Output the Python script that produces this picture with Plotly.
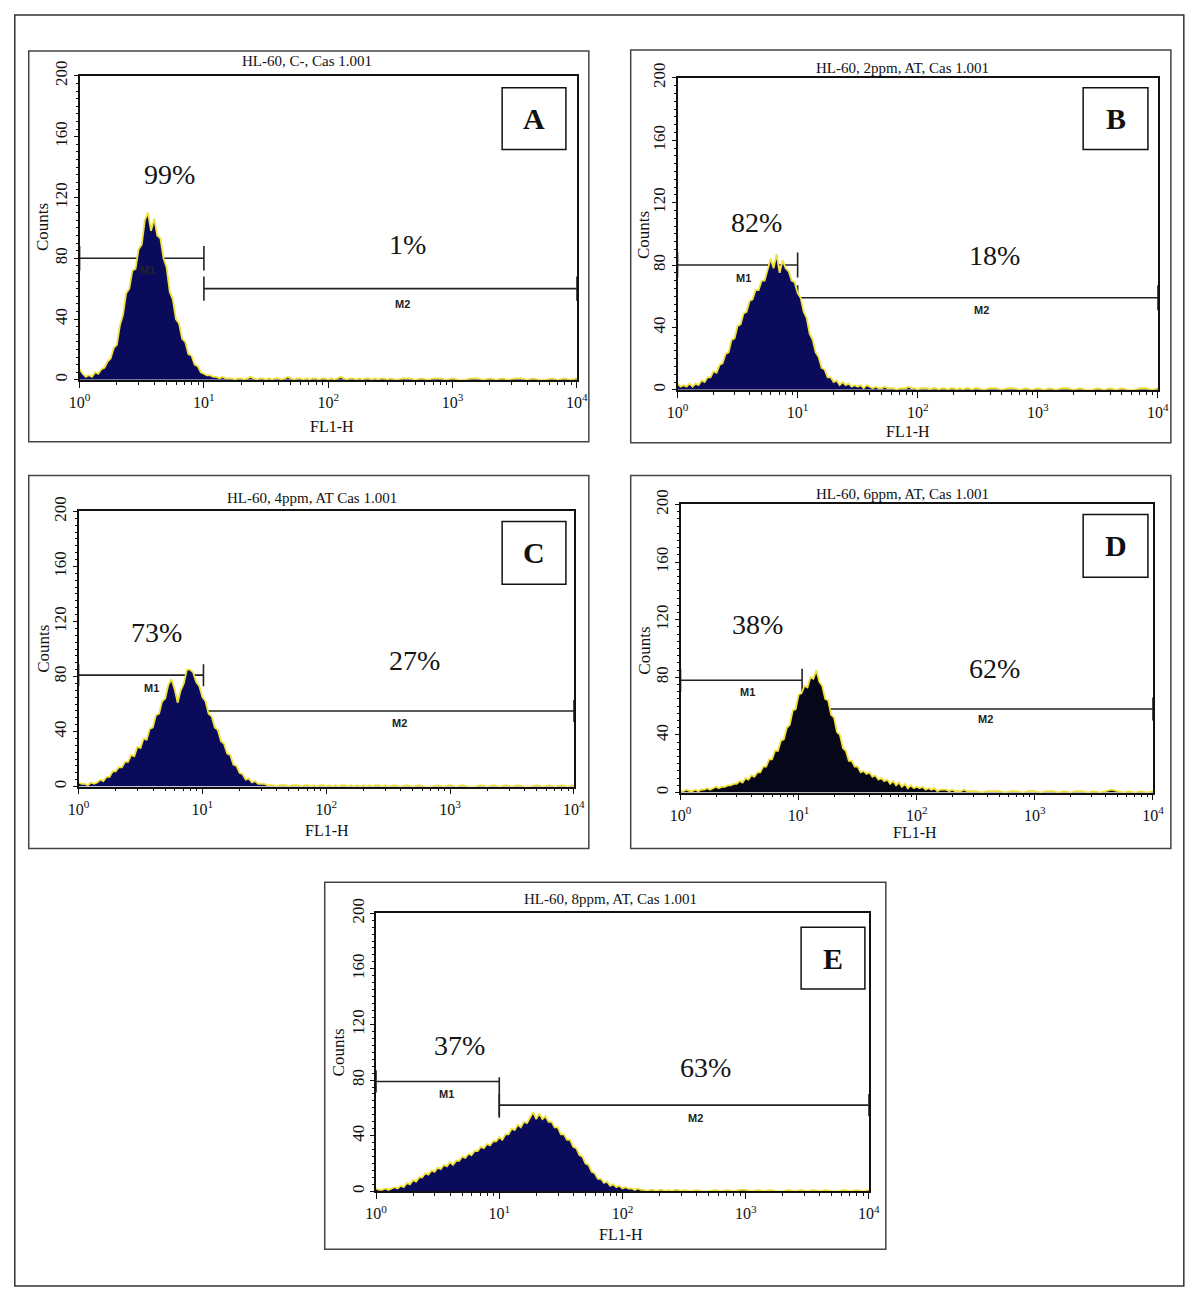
import plotly.graph_objects as go

# ---------------- data ----------------
PANEL_KEYS = ["A", "B", "C", "D", "E"]
PANEL_TITLES = [
    "HL-60, C-, Cas 1.001",
    "HL-60, 2ppm, AT, Cas 1.001",
    "HL-60, 4ppm, AT Cas 1.001",
    "HL-60, 6ppm, AT, Cas 1.001",
    "HL-60, 8ppm, AT, Cas 1.001",
]

# FL1-H channel positions: 40 per decade up to ~300, then 20 per decade
FL1_H = [1.000, 1.059, 1.122, 1.189, 1.259, 1.334, 1.413, 1.496, 1.585, 1.679,
         1.778, 1.884, 1.995, 2.113, 2.239, 2.371, 2.512, 2.661, 2.818, 2.985,
         3.162, 3.350, 3.548, 3.758, 3.981, 4.217, 4.467, 4.732, 5.012, 5.309,
         5.623, 5.957, 6.310, 6.683, 7.079, 7.499, 7.943, 8.414, 8.913, 9.441,
         10.00, 10.59, 11.22, 11.89, 12.59, 13.34, 14.13, 14.96, 15.85, 16.79,
         17.78, 18.84, 19.95, 21.13, 22.39, 23.71, 25.12, 26.61, 28.18, 29.85,
         31.62, 33.50, 35.48, 37.58, 39.81, 42.17, 44.67, 47.32, 50.12, 53.09,
         56.23, 59.57, 63.10, 66.83, 70.79, 74.99, 79.43, 84.14, 89.13, 94.41,
         100.0, 105.9, 112.2, 118.9, 125.9, 133.4, 141.3, 149.6, 158.5, 167.9,
         177.8, 188.4, 199.5, 211.3, 223.9, 237.1, 251.2, 266.1, 281.8, 298.5,
         316, 355, 398, 447, 501, 562, 631, 708, 794, 891,
         1000, 1122, 1259, 1413, 1585, 1778, 1995, 2239, 2512, 2818,
         3162, 3548, 3981, 4467, 5012, 5623, 6310, 7079, 7943, 8913, 10000]

COUNTS_A = [7, 4, 2, 3, 2, 5, 4, 7, 8, 12, 14, 21, 23, 36, 43, 57, 60, 72, 73, 86,
            89, 105, 110, 98, 106, 95, 93, 80, 74, 58, 53, 40, 37, 27, 25, 17, 16, 10, 9, 5,
            4, 3, 3, 2, 2, 1, 2, 1, 1,
            1, 0, 1, 1, 0, 1, 2, 1, 0, 1, 1, 0, 1, 0, 1, 1, 0, 1, 2, 1,
            0, 1, 1, 0, 1, 0, 1, 1, 0, 1, 1, 0, 1, 0, 1, 2, 1, 0, 1, 1,
            0, 1, 0, 1, 1, 0, 1, 0, 1, 1, 0,
            1, 0, 1, 1, 0, 1, 0, 1, 1, 0, 1, 0, 0, 1, 1, 0, 1, 0, 1, 0,
            1, 1, 0, 1, 0, 0, 1, 0, 1, 0, 1]
COUNTS_B = [4, 2, 3, 2, 4, 2, 4, 3, 6, 5, 8, 8, 12, 11, 16, 17, 23, 24, 32, 33,
            41, 42, 49, 50, 57, 58, 64, 64, 70, 70, 77, 84, 78, 87, 75, 83, 78, 76, 70, 69,
            62, 59, 50, 46, 36, 32, 24, 21, 14, 13, 8, 8, 5, 6, 3, 5, 3, 4, 2, 3,
            2, 3, 1, 3, 2,
            1, 2, 1, 1, 2, 1, 1, 1, 0, 1, 1, 1, 2, 1, 1, 0, 1, 1, 1, 0,
            1, 1, 0, 1, 1, 0, 1, 1, 0, 1, 0, 1, 1, 0, 1,
            1, 0, 1, 1, 0, 1, 1, 0, 1, 0, 1, 0, 1, 0, 1, 1, 0, 1, 0, 0,
            1, 0, 1, 0, 1, 0, 0, 1, 1, 0, 1]
COUNTS_C = [3, 2, 2, 1, 3, 2, 3, 5, 4, 7, 7, 11, 11, 14, 14, 18, 18, 23, 22, 29,
            28, 35, 34, 42, 43, 52, 53, 62, 64, 74, 78, 71, 61, 70, 75, 85, 85, 83, 76, 73,
            65, 62, 53, 51, 43, 41, 33, 31, 24, 23, 16, 15, 10, 9, 5, 6, 3, 4, 2, 2,
            2,
            1, 1, 1, 0, 1, 1, 1, 0, 1, 1, 1, 0, 1, 1, 0, 1, 0, 1, 1, 0,
            1, 0, 1, 0, 1, 1, 0, 1, 0, 1, 0, 1, 0, 1, 0, 1, 1, 0, 1,
            0, 1, 0, 1, 0, 1, 0, 0, 1, 0, 1, 0, 1, 0, 0, 1, 0, 1, 0, 1,
            0, 1, 0, 0, 1, 0, 1, 0, 1, 0, 1]
COUNTS_D = [1, 1, 2, 1, 1, 2, 1, 2, 2, 3, 2, 3, 4, 3, 4, 4, 5, 5, 6, 6,
            8, 7, 10, 9, 12, 11, 14, 14, 18, 18, 23, 23, 29, 29, 36, 37, 45, 47, 57, 58,
            68, 69, 74, 73, 80, 79, 85, 77, 74, 65, 64, 54, 52, 42, 40, 31, 29, 22, 22, 18,
            18, 14, 15, 13, 14, 11, 12, 9, 10, 8, 9, 6, 8, 5, 7, 4, 6, 3, 5, 3,
            4, 3, 4, 2, 3, 2, 3, 1, 2, 2, 2, 1, 2, 1,
            1, 1, 2, 1, 1, 1,
            1, 0, 1, 1, 1, 0, 1, 1, 0, 1, 1, 0, 1, 1, 0, 1, 0, 1, 1, 0,
            1, 0, 1, 2, 1, 0, 1, 0, 1, 0, 1]
COUNTS_E = [2, 1, 1, 2, 1, 2, 3, 2, 4, 3, 6, 5, 8, 7, 10, 10, 13, 12, 15, 14,
            17, 16, 19, 18, 21, 19, 22, 22, 25, 24, 27, 26, 29, 29, 32, 31, 34, 33, 36, 36,
            39, 37, 41, 41, 45, 44, 48, 46, 50, 49, 53, 57, 52, 56, 52, 54, 50, 50, 46, 46,
            41, 41, 37, 37, 32, 31, 26, 25, 20, 19, 14, 13, 9, 9, 6, 7, 4, 5, 3, 4,
            2, 3, 2, 2, 1, 2, 1,
            1, 0, 1, 1, 0, 1, 1, 0, 1, 0, 1, 1, 0,
            1, 0, 1, 0, 0, 1, 0, 1, 0, 1, 1, 0, 1, 0, 1, 0, 0, 1, 0, 1,
            0, 1, 0, 1, 0, 0, 1, 0, 1, 0, 1]
ALL_COUNTS = [COUNTS_A, COUNTS_B, COUNTS_C, COUNTS_D, COUNTS_E]

PCT_M1 = [99, 82, 73, 38, 37]
PCT_M2 = [1, 18, 27, 62, 63]

# marker gates (FL1-H limits, count level)
M1_START = [1, 1, 1, 1, 1]
M1_END = [10, 10, 10.2, 10.7, 10]
M1_LEVEL = [80, 80, 81, 78, 79]
M2_START = [10, 10, 10.2, 10.7, 10]
M2_END = [10000, 10000, 10000, 10000, 10000]
M2_LEVEL = [60, 59, 55, 58, 62]

X_TICKS = [1, 10, 100, 1000, 10000]
X_TICK_TEXT = ["10<sup>0</sup>", "10<sup>1</sup>", "10<sup>2</sup>", "10<sup>3</sup>", "10<sup>4</sup>"]
Y_TICKS = [0, 40, 80, 120, 160, 200]

# ---------------- layout (pixel geometry of the target picture) ----------------
W, H = 1200, 1300
# the photographed page shows the figure slightly offset and scaled; map target pixels to figure pixels
OX, SX, OY, SY = 8.2, 0.985, 12.0, 0.99
def px(x):
    return ((x - OX) / SX) / W
def py(y):
    return 1 - ((y - OY) / SY) / H

PLOT_BOX = [(77, 576, 73, 378), (677, 1159, 75, 388), (76, 573, 510, 786), (680, 1154, 503, 792), (374.5, 869, 913, 1192)]
FRAME = [(26, 588, 48, 440), (630, 1172, 47, 441), (26, 588, 474, 848), (630, 1172, 474, 848), (323, 886, 882, 1250)]
LETTER_BOX = [(501, 565, 85, 147), (1084, 1149, 85, 147), (501, 565, 520, 583), (1084, 1149, 513, 576), (801, 865, 927, 989)]
TITLE_POS = [(305, 58), (903, 65), (310, 497), (903, 492), (610, 899)]
COUNTS_POS = [(40, 225), (643, 233), (40, 648), (643, 650), (337, 1053)]
FL1_POS = [(330, 425), (908, 430), (325, 830), (915, 832), (620, 1235)]
PCT1_POS = [(0.72, 135), (0.66, 107), (0.63, 112), (0.65, 117), (0.68, 105)]
PCT2_POS = [(2.64, 89), (2.64, 86), (2.71, 92), (2.66, 86), (2.67, 89)]
M1_LABEL_POS = [(0.545, 72), (0.55, 72), (0.59, 72), (0.57, 70), (0.57, 70)]
M2_LABEL_POS = [(2.6, 50), (2.53, 51), (2.59, 46), (2.58, 51), (2.59, 53)]
FILL_COLORS = ["#0b0b5c", "#0b0b5c", "#0b0b5c", "#07071a", "#0b0b5c"]

SERIF = "Liberation Serif"
SANS = "Liberation Sans"

fig = go.Figure()
layout_axes = {}
annotations = []
shapes = []

minor_x = [m * 10 ** d for d in range(4) for m in range(2, 10)]

for i in range(5):
    s = "" if i == 0 else str(i + 1)
    xa, ya = "x" + s, "y" + s
    x0, x1, y0, y1 = PLOT_BOX[i]

    # gates (drawn beneath histogram)
    tick = 8
    gx = [M1_START[i], M1_END[i], None, M1_START[i], M1_START[i], None, M1_END[i], M1_END[i], None,
          M2_START[i], M2_END[i], None, M2_START[i], M2_START[i], None, M2_END[i], M2_END[i]]
    gy = [M1_LEVEL[i], M1_LEVEL[i], None, M1_LEVEL[i] - tick, M1_LEVEL[i] + tick, None,
          M1_LEVEL[i] - tick, M1_LEVEL[i] + tick, None,
          M2_LEVEL[i], M2_LEVEL[i], None, M2_LEVEL[i] - tick, M2_LEVEL[i] + tick, None,
          M2_LEVEL[i] - tick, M2_LEVEL[i] + tick]
    if i == 4:
        gy[7] = M1_LEVEL[i] + 3
        gy[6] = M2_LEVEL[i] - 9
    fig.add_trace(go.Scatter(x=gx, y=gy, mode="lines", line=dict(color="#222222", width=1.6),
                             xaxis=xa, yaxis=ya, showlegend=False, hoverinfo="skip"))

    # histogram
    fig.add_trace(go.Scatter(x=FL1_H, y=ALL_COUNTS[i], mode="lines",
                             line=dict(color="#efe03a", width=1.8),
                             fill="tozeroy", fillcolor=FILL_COLORS[i],
                             xaxis=xa, yaxis=ya, showlegend=False, hoverinfo="skip"))

    layout_axes["xaxis" + s] = dict(
        type="log", range=[0, 4], domain=[px(x0), px(x1)], anchor=ya,
        showline=True, linecolor="#111", linewidth=1.5, mirror=True,
        showgrid=False, zeroline=False, ticks="outside", ticklen=6, tickcolor="#111",
        tickmode="array", tickvals=X_TICKS, ticktext=X_TICK_TEXT, ticklabelstandoff=1,
        tickfont=dict(family=SERIF, size=16, color="#111"),
        minor=dict(tickmode="array", tickvals=minor_x, ticks="outside", ticklen=3, tickcolor="#111", showgrid=False),
    )
    layout_axes["yaxis" + s] = dict(
        range=[0, 200], domain=[py(y1), py(y0)], anchor=xa,
        showline=True, linecolor="#111", linewidth=1.5, mirror=True,
        showgrid=False, zeroline=False, ticks="outside", ticklen=4, tickcolor="#111",
        tickmode="array", tickvals=Y_TICKS, tickangle=-90,
        tickfont=dict(family=SERIF, size=17, color="#111"),
        minor=dict(dtick=5, ticks="outside", ticklen=2, tickcolor="#111", showgrid=False),
    )

    # panel frame
    fx0, fx1, fy0, fy1 = FRAME[i]
    shapes.append(dict(type="rect", xref="paper", yref="paper", x0=px(fx0), x1=px(fx1), y0=py(fy1), y1=py(fy0),
                       line=dict(color="#444", width=1.5)))
    # letter box
    lx0, lx1, ly0, ly1 = LETTER_BOX[i]
    shapes.append(dict(type="rect", xref="paper", yref="paper", x0=px(lx0), x1=px(lx1), y0=py(ly1), y1=py(ly0),
                       line=dict(color="#111", width=1.5), fillcolor="white"))
    annotations.append(dict(xref="paper", yref="paper", x=px((lx0 + lx1) / 2), y=py((ly0 + ly1) / 2),
                            text="<b>" + PANEL_KEYS[i] + "</b>", showarrow=False,
                            font=dict(family=SERIF, size=30, color="#111"), xanchor="center", yanchor="middle"))
    # title
    annotations.append(dict(xref="paper", yref="paper", x=px(TITLE_POS[i][0]), y=py(TITLE_POS[i][1]),
                            text=PANEL_TITLES[i], showarrow=False, xanchor="center", yanchor="middle",
                            font=dict(family=SERIF, size=15, color="#111")))
    # axis titles
    annotations.append(dict(xref="paper", yref="paper", x=px(COUNTS_POS[i][0]), y=py(COUNTS_POS[i][1]),
                            text="Counts", showarrow=False, textangle=-90, xanchor="center", yanchor="middle",
                            font=dict(family=SERIF, size=17, color="#111")))
    annotations.append(dict(xref="paper", yref="paper", x=px(FL1_POS[i][0]), y=py(FL1_POS[i][1]),
                            text="FL1-H", showarrow=False, xanchor="center", yanchor="middle",
                            font=dict(family=SERIF, size=16, color="#111")))
    # percentages
    annotations.append(dict(xref=xa, yref=ya, x=PCT1_POS[i][0], y=PCT1_POS[i][1], text=f"{PCT_M1[i]}%",
                            showarrow=False, font=dict(family=SERIF, size=28, color="#151515")))
    annotations.append(dict(xref=xa, yref=ya, x=PCT2_POS[i][0], y=PCT2_POS[i][1], text=f"{PCT_M2[i]}%",
                            showarrow=False, font=dict(family=SERIF, size=28, color="#151515")))
    # gate labels
    annotations.append(dict(xref=xa, yref=ya, x=M1_LABEL_POS[i][0], y=M1_LABEL_POS[i][1], text="<b>M1</b>",
                            showarrow=False, font=dict(family=SANS, size=11, color="#222")))
    annotations.append(dict(xref=xa, yref=ya, x=M2_LABEL_POS[i][0], y=M2_LABEL_POS[i][1], text="<b>M2</b>",
                            showarrow=False, font=dict(family=SANS, size=11, color="#222")))

# outer border
shapes.append(dict(type="rect", xref="paper", yref="paper", x0=px(12), x1=px(1185), y0=py(1287), y1=py(12),
                   line=dict(color="#333", width=1.5)))

fig.update_layout(
    width=W, height=H, autosize=False,
    margin=dict(l=0, r=0, t=0, b=0),
    paper_bgcolor="white", plot_bgcolor="white",
    shapes=shapes, annotations=annotations,
    **layout_axes,
)

fig.write_html("out.html", config={"displayModeBar": False},
               post_script="document.body.style.margin='0';document.body.style.padding='0';"
                           "document.documentElement.style.overflow='hidden';")
